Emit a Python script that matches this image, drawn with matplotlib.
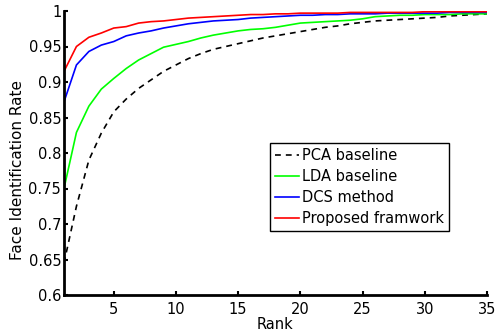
import matplotlib
matplotlib.use("Agg")
import matplotlib.pyplot as plt
import numpy as np

plt.rcParams['font.family'] = ['DejaVu Sans']

rank = list(range(1, 36))
pca = [0.645, 0.725, 0.790, 0.828, 0.858, 0.876, 0.891, 0.903, 0.915, 0.924,
       0.933, 0.940, 0.946, 0.950, 0.954, 0.958, 0.962, 0.965, 0.968, 0.971,
       0.974, 0.977, 0.979, 0.982, 0.984, 0.986, 0.987, 0.988, 0.989, 0.990,
       0.991, 0.993, 0.994, 0.995, 0.996]
lda = [0.750, 0.829, 0.866, 0.890, 0.905, 0.919, 0.931, 0.940, 0.949, 0.953,
       0.957, 0.962, 0.966, 0.969, 0.972, 0.974, 0.975, 0.977, 0.980, 0.983,
       0.984, 0.985, 0.986, 0.987, 0.989, 0.992, 0.993, 0.994, 0.994, 0.995,
       0.995, 0.995, 0.996, 0.996, 0.996]
dcs = [0.872, 0.924, 0.943, 0.952, 0.957, 0.965, 0.969, 0.972, 0.976, 0.979,
       0.982, 0.984, 0.986, 0.987, 0.988, 0.990, 0.991, 0.992, 0.993, 0.994,
       0.994, 0.995, 0.995, 0.996, 0.996, 0.996, 0.997, 0.997, 0.997, 0.997,
       0.997, 0.998, 0.998, 0.998, 0.998]
prop = [0.915, 0.950, 0.963, 0.969, 0.976, 0.978, 0.983, 0.985, 0.986, 0.988,
        0.990, 0.991, 0.992, 0.993, 0.994, 0.995, 0.995, 0.996, 0.996, 0.997,
        0.997, 0.997, 0.997, 0.998, 0.998, 0.998, 0.998, 0.998, 0.998, 0.999,
        0.999, 0.999, 0.999, 0.999, 0.999]

labels = ['PCA baseline', 'LDA baseline', 'DCS method', 'Proposed framwork']
xticks = [5, 10, 15, 20, 25, 30, 35]
yticks = [0.6, 0.65, 0.7, 0.75, 0.8, 0.85, 0.9, 0.95, 1.0]
ytick_labels = ['0.6', '0.65', '0.7', '0.75', '0.8', '0.85', '0.9', '0.95', '1']

fs = 10.5
fig = plt.figure(figsize=(4.95, 3.35), dpi=100)
ax = fig.add_axes([64/495, 1-295/335, (487-64)/495, (295-11)/335])

ax.plot(rank, pca, color='black', lw=1.2, dashes=(3.5, 3), label=labels[0])
ax.plot(rank, lda, color='#00ff00', lw=1.2, label=labels[1])
ax.plot(rank, dcs, color='#0000ff', lw=1.2, label=labels[2])
ax.plot(rank, prop, color='#ff0000', lw=1.2, label=labels[3])

ax.set_xlim(1, 35)
ax.set_ylim(0.6, 1.0)
ax.set_xticks(xticks)
ax.set_yticks(yticks)
ax.set_yticklabels(ytick_labels)
ax.tick_params(direction='in', length=3, width=1.5, labelsize=fs)
ax.tick_params(axis='y', pad=2)
ax.tick_params(axis='x', pad=5)
for s in ['top', 'right']:
    ax.spines[s].set_visible(False)
for s in ['left', 'bottom']:
    ax.spines[s].set_linewidth(2)
ax.set_xlabel('Rank', fontsize=fs, labelpad=0)
ax.set_ylabel('Face Identification Rate', fontsize=11)
ax.yaxis.set_label_coords(-0.093, 0.44)

leg = ax.legend(loc='lower right', bbox_to_anchor=(0.910, 0.225), borderaxespad=0,
                fontsize=fs, fancybox=False, edgecolor='black', framealpha=1,
                handlelength=1.7, handletextpad=0.2, labelspacing=0.42,
                borderpad=0.32)
leg.get_frame().set_linewidth(1.0)

fig.savefig('out.png', dpi=100)
